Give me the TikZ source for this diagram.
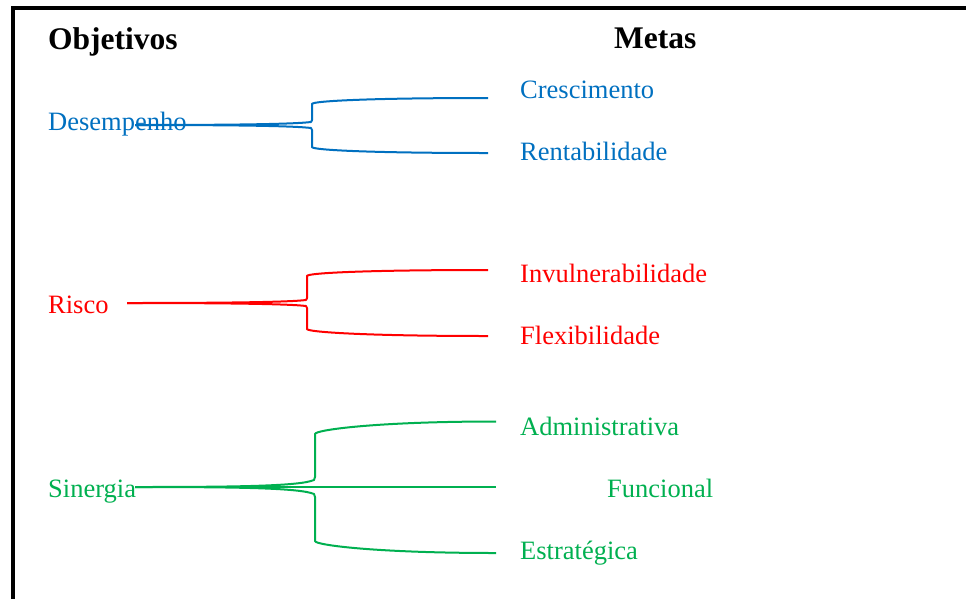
\documentclass[tikz,border=0pt]{standalone}
\usepackage{fontspec}
\setmainfont{Liberation Serif}
\usetikzlibrary{calc}
\usetikzlibrary{positioning}
\definecolor{dblue}{HTML}{0070C0}
\definecolor{dred}{HTML}{FF0000}
\definecolor{dgreen}{HTML}{00B050}
\tikzset{
  every picture/.style={font={\rmfamily}}}

\begin{document}
\begin{tikzpicture}[x=1pt, y=-1pt,
    head/.style={anchor=base west, inner sep=0pt, font={\fontsize{31.5}{36}\selectfont\bfseries}},
    label/.style={anchor=base west, inner sep=0pt, font={\fontsize{26.5}{30}\selectfont}},
    branch/.style={line width=2pt, line join=round}]

    \clip (0,0) rectangle (966,598);
    \fill[white] (0,0) rectangle (966,598);
    \draw[line width=4pt] (13,610) -- (13,8) -- (980,8);

    % column titles
    \node[head] (OT) at (48,49) {Objetivos};
    \node[head] (MT) at (614,48) {Metas};

    % objectives
    \node[label, text=dblue] (OA) at (48,130) {Desempenho};
    \node[label, text=dred] (OB) at (48,313) {Risco};
    \node[label, text=dgreen] (OC) at (48,497) {Sinergia};

    % goals
    \node[label, text=dblue] (MA) at (520,98) {Crescimento};
    \node[label, text=dblue] (MB) at (520,160) {Rentabilidade};
    \node[label, text=dred] (MC) at (520,282) {Invulnerabilidade};
    \node[label, text=dred] (MD) at (520,344) {Flexibilidade};
    \node[label, text=dgreen] (ME) at (520,435) {Administrativa};
    \node[label, text=dgreen] (MF) at (607,497) {Funcional};
    \node[label, text=dgreen] (MG) at (520,559) {Estratégica};

    % free ends of the braces
    \coordinate (SA) at (135,125);
    \coordinate (SB) at (127,303);
    \coordinate (SC) at (135,487);
    \coordinate (EA) at (488,98);
    \coordinate (EB) at (488,153);
    \coordinate (EC) at (488,270);
    \coordinate (ED) at (488,336);
    \coordinate (EE) at (496,421.5);
    \coordinate (EF) at (496,487);
    \coordinate (EG) at (496,553);

    \begin{scope}[branch, dblue]
      \draw (SA) .. controls (240,125) and (295,124) .. (311,122) -- (312,120)
        -- (312,104) .. controls (312,101) and (370,98) .. (EA);
      \draw (SA) .. controls (240,125) and (295,126) .. (311,128) -- (312,130)
        -- (312,147) .. controls (312,150) and (370,153) .. (EB);
    \end{scope}

    \begin{scope}[branch, dred]
      \draw (SB) .. controls (230,303) and (290,302) .. (306,300) -- (307,298)
        -- (307,276) .. controls (307,273) and (365,270) .. (EC);
      \draw (SB) .. controls (230,303) and (290,304) .. (306,306) -- (307,308)
        -- (307,329) .. controls (307,332) and (365,336) .. (ED);
    \end{scope}

    \begin{scope}[branch, dgreen]
      \draw (SC) .. controls (240,487) and (300,486) .. (314,480) -- (315,477)
        -- (315,434) .. controls (315,430) and (375,421.5) .. (EE);
      \draw (SC) -- (EF);
      \draw (SC) .. controls (240,487) and (300,488) .. (314,494) -- (315,497)
        -- (315,541) .. controls (315,545) and (375,553) .. (EG);
    \end{scope}
  \end{tikzpicture}
\end{document}
